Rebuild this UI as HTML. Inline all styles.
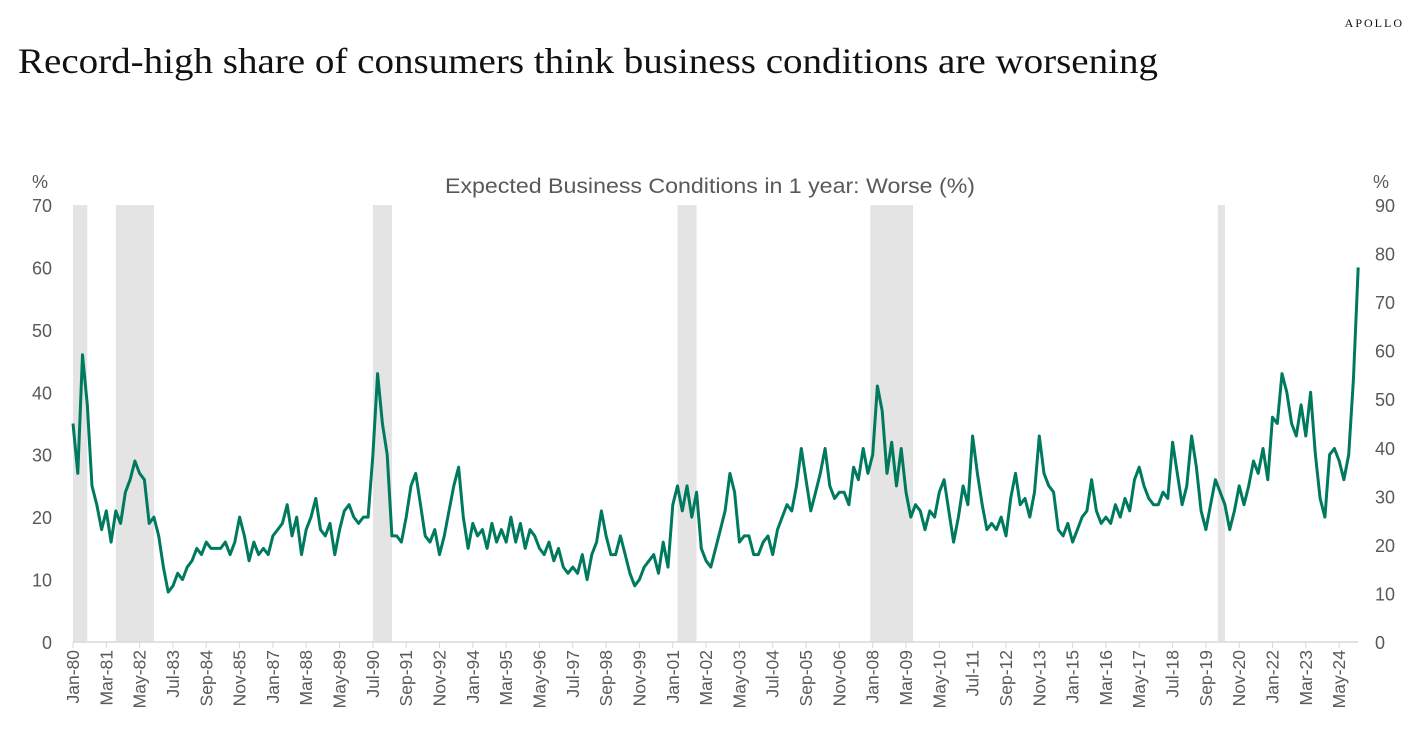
<!DOCTYPE html>
<html><head><meta charset="utf-8"><style>
body{margin:0;background:#fff;width:1410px;height:745px;overflow:hidden;font-family:"Liberation Sans",sans-serif}
svg text{font-family:"Liberation Sans",sans-serif}
</style></head><body>
<svg id="c" width="1410" height="745">
<text x="1404" y="27" text-anchor="end" style="font-family:'Liberation Serif',serif;letter-spacing:2px" font-size="12" fill="#111">APOLLO</text>
<text x="18" y="73" textLength="1140" lengthAdjust="spacingAndGlyphs" style="font-family:'Liberation Serif',serif" font-size="36" fill="#111">Record-high share of consumers think business conditions are worsening</text>
<text x="445" y="193" textLength="530" lengthAdjust="spacingAndGlyphs" font-size="21" fill="#595959">Expected Business Conditions in 1 year: Worse (%)</text>
<text x="40" y="188" text-anchor="middle" font-size="18" fill="#595959">%</text>
<text x="1381" y="188" text-anchor="middle" font-size="18" fill="#595959">%</text>
<g id="bands"></g><g id="axes"></g><g id="line"></g>
</svg>
<script>
const values=[
35,27,46,38,25,22, 18,21,16,21,19,24, 26,29,27,26,19,20, 17,12,8,9,11,10,
12,13,15,14,16,15, 15,15,16,14,16,20, 17,13,16,14,15,14, 17,18,19,22,17,20,
14,18,20,23,18,17, 19,14,18,21,22,20, 19,20,20,30,43,35, 30,17,17,16,20,25,
27,22,17,16,18,14, 17,21,25,28,20,15, 19,17,18,15,19,16, 18,16,20,16,19,15,
18,17,15,14,16,13, 15,12,11,12,11,14, 10,14,16,21,17,14, 14,17,14,11,9,10,
12,13,14,11,16,12, 22,25,21,25,20,24, 15,13,12,15,18,21, 27,24,16,17,17,14,
14,16,17,14,18,20, 22,21,25,31,26,21, 24,27,31,25,23,24, 24,22,28,26,31,27,
30,41,37,27,32,25, 31,24,20,22,21,18, 21,20,24,26,21,16, 20,25,22,33,27,22,
18,19,18,20,17,23, 27,22,23,20,24,33, 27,25,24,18,17,19, 16,18,20,21,26,21,
19,20,19,22,20,23, 21,26,28,25,23,22, 22,24,23,32,27,22, 25,33,28,21,18,22,
26,24,22,18,21,25, 22,25,29,27,31,26, 36,35,43,40,35,33, 38,33,40,30,23,20,
30,31,29,26,30,42, 60];
const stepMonths=2;
const recessionStart=[0,18,126,254,335,481];
const recessionEnd=[6,34,134,262,353,484];
const leftTicks=[0,10,20,30,40,50,60,70];
const rightTicks=[0,10,20,30,40,50,60,70,80,90];
const monthNames=["Jan","Feb","Mar","Apr","May","Jun","Jul","Aug","Sep","Oct","Nov","Dec"];
const NS="http://www.w3.org/2000/svg";
const x0=73,pxm=2.38,yb=642,yt=205;
const X=m=>x0+m*pxm;
const Y=v=>yb-(v/70)*(yb-yt);
const YR=v=>yb-(v/90)*(yb-yt);
function mk(t,a,p){const e=document.createElementNS(NS,t);for(const k in a)e.setAttribute(k,a[k]);p.appendChild(e);return e;}
const bands=document.getElementById('bands'),axes=document.getElementById('axes'),line=document.getElementById('line');
recessionStart.forEach((s,i)=>{const r=mk('rect',{x:X(s),y:yt,width:Math.max(3,X(recessionEnd[i])-X(s)),height:yb-yt,fill:'#e4e4e4'},bands);

});
leftTicks.forEach(v=>{const t=mk('text',{x:52,y:Y(v)+7,'text-anchor':'end','font-size':18,fill:'#595959'},axes);t.textContent=v;

});
rightTicks.forEach(v=>{const t=mk('text',{x:1375,y:YR(v)+7,'text-anchor':'start','font-size':18,fill:'#595959'},axes);t.textContent=v;

});
const ax=mk('line',{x1:x0,x2:1358,y1:yb,y2:yb,stroke:'#d9d9d9','stroke-width':1.5},axes);


for(let m=0;m<=532;m+=14){
 const tk=mk('line',{x1:X(m),x2:X(m),y1:yb,y2:yb+6,stroke:'#d9d9d9','stroke-width':1},axes);
 
 
 const yr=1980+Math.floor(m/12),lab=monthNames[m%12]+'-'+String(yr).slice(2);
 const t=mk('text',{x:0,y:0,'text-anchor':'end','font-size':17.5,fill:'#595959',transform:`translate(${X(m)+6},${yb+8}) rotate(-90)`},axes);
 t.textContent=lab;
 
 
}
const pts=values.map((v,i)=>X(i*stepMonths).toFixed(1)+','+Y(v).toFixed(1)).join(' ');
const pl=mk('polyline',{points:pts,fill:'none',stroke:'#007A5E','stroke-width':3,'stroke-linejoin':'round'},line);


</script>
</body></html>
